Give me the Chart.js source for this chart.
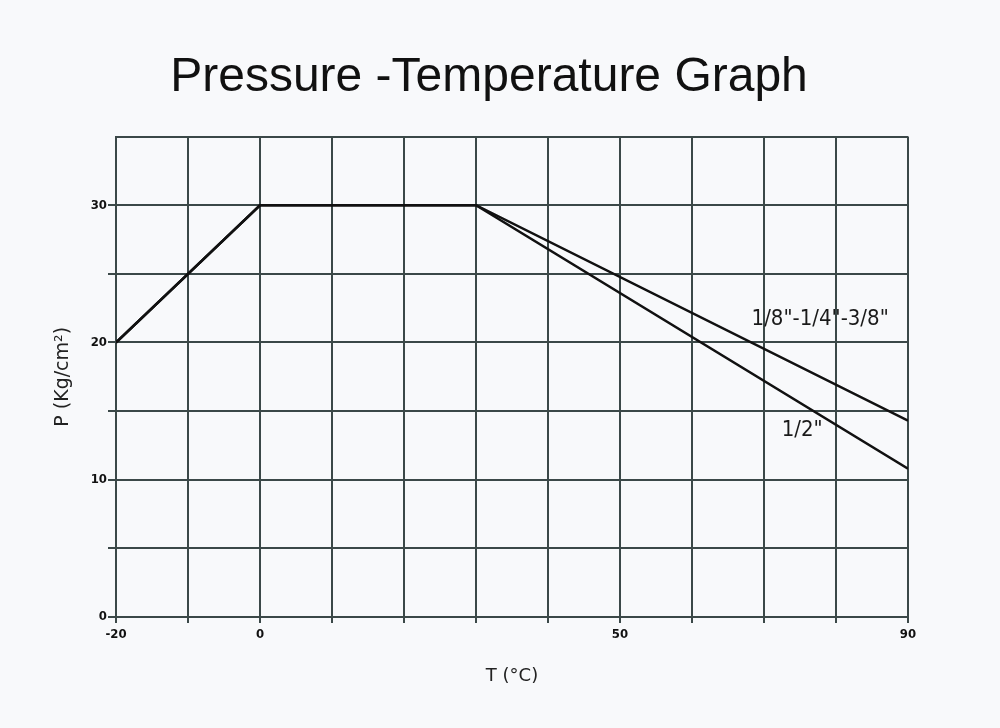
<!DOCTYPE html>
<html>
<head>
<meta charset="utf-8">
<script src="https://cdn.jsdelivr.net/npm/chart.js@4/dist/chart.umd.min.js"></script>
<style>
  html, body { margin: 0; padding: 0; background: #f8f9fb; }
  #wrap { width: 1000px; height: 728px; }
</style>
</head>
<body>
<div id="wrap"><canvas id="ptChart"></canvas></div>
<script>
// temperature (°C) and pressure (Kg/cm²)
const temps = [-20, 0, 30, 90];
const pressSmall = [20, 30, 30, 14.3];   // 1/8"-1/4"-3/8"
const pressHalf = [20, 30, 30, 10.8];    // 1/2"
const xLabeled = [-20, 0, 50, 90];
const yLabeled = [0, 10, 20, 30];
const notes = [
    { text: '1/8"-1/4"-3/8"', x: 77.8, y: 21.7 },
    { text: '1/2"', x: 75.3, y: 13.6 }
];

const gridColor = '#3b4848';

const toPoints = (ys) => temps.map((t, i) => ({ x: t, y: ys[i] }));

const bgPlugin = {
    id: 'bg',
    beforeDraw(chart) {
        const c = chart.ctx;
        c.save();
        c.fillStyle = '#f8f9fb';
        c.fillRect(0, 0, chart.width, chart.height);
        c.restore();
    }
};

const notePlugin = {
    id: 'notes',
    afterDatasetsDraw(chart) {
        const c = chart.ctx;
        const xs = chart.scales.x, ys = chart.scales.y;
        c.save();
        c.fillStyle = '#1a1a1a';
        c.font = '22px "DejaVu Sans Condensed"';
        c.textAlign = 'center';
        c.textBaseline = 'middle';
        notes.forEach(n => {
            c.fillText(n.text, xs.getPixelForValue(n.x), ys.getPixelForValue(n.y));
        });
        c.restore();
    }
};

new Chart(document.getElementById('ptChart'), {
    type: 'scatter',
    data: {
        datasets: [{
            label: '1/8"-1/4"-3/8"',
            data: toPoints(pressSmall),
            showLine: true,
            borderColor: '#111',
            borderWidth: 2.5,
            pointRadius: 0
        }, {
            label: '1/2"',
            data: toPoints(pressHalf),
            showLine: true,
            borderColor: '#111',
            borderWidth: 2.5,
            pointRadius: 0
        }]
    },
    plugins: [bgPlugin, notePlugin],
    options: {
        responsive: true,
        maintainAspectRatio: false,
        animation: false,
        layout: { padding: { left: 0, right: 22, top: 0, bottom: 0 } },
        plugins: {
            legend: { display: false },
            tooltip: { enabled: false },
            title: {
                display: true,
                text: 'Pressure -Temperature Graph',
                color: '#111',
                font: { family: '"Liberation Sans", Arial', size: 48, weight: 'normal', lineHeight: 1.2 },
                padding: { top: 49, bottom: 30 }
            }
        },
        scales: {
            x: {
                type: 'linear',
                min: -20,
                max: 90,
                afterFit: (scale) => { scale.height = 111; },
                grid: { color: gridColor, lineWidth: 2, tickLength: 6, drawTicks: true },
                border: { color: gridColor, width: 2 },
                ticks: {
                    stepSize: 10,
                    autoSkip: false,
                    maxRotation: 0,
                    padding: 4,
                    color: '#111',
                    font: { family: '"DejaVu Sans Condensed"', size: 13, weight: 'bold' },
                    callback: (v) => xLabeled.includes(v) ? String(v) : ''
                },
                title: {
                    display: true,
                    text: 'T (°C)',
                    color: '#222',
                    font: { family: '"DejaVu Sans"', size: 18, lineHeight: 1.2 },
                    padding: { top: 0, bottom: 41 }
                }
            },
            y: {
                min: 0,
                max: 35,
                afterFit: (scale) => { scale.width = 116; },
                grid: {
                    color: gridColor,
                    lineWidth: 2,
                    tickLength: 8,
                    tickColor: (ctx) => (ctx.tick && ctx.tick.value === 35) ? 'rgba(0,0,0,0)' : gridColor
                },
                border: { color: gridColor, width: 2 },
                ticks: {
                    stepSize: 5,
                    autoSkip: false,
                    padding: 1,
                    color: '#111',
                    font: { family: '"DejaVu Sans Condensed"', size: 13, weight: 'bold' },
                    callback: (v) => yLabeled.includes(v) ? String(v) : ''
                },
                title: {
                    display: true,
                    text: 'P (Kg/cm²)',
                    color: '#222',
                    font: { family: '"DejaVu Sans"', size: 19, lineHeight: 1.2 },
                    padding: { top: 52, bottom: 0 }
                }
            },
            // empty right-hand axis so the plot ends at the same place while the title stays centred
            yPad: {
                position: 'right',
                min: 0,
                max: 35,
                afterFit: (scale) => { scale.width = 70; },
                grid: { display: false, drawOnChartArea: false },
                border: { display: false },
                ticks: { display: false }
            }
        }
    }
});
</script>
</body>
</html>
